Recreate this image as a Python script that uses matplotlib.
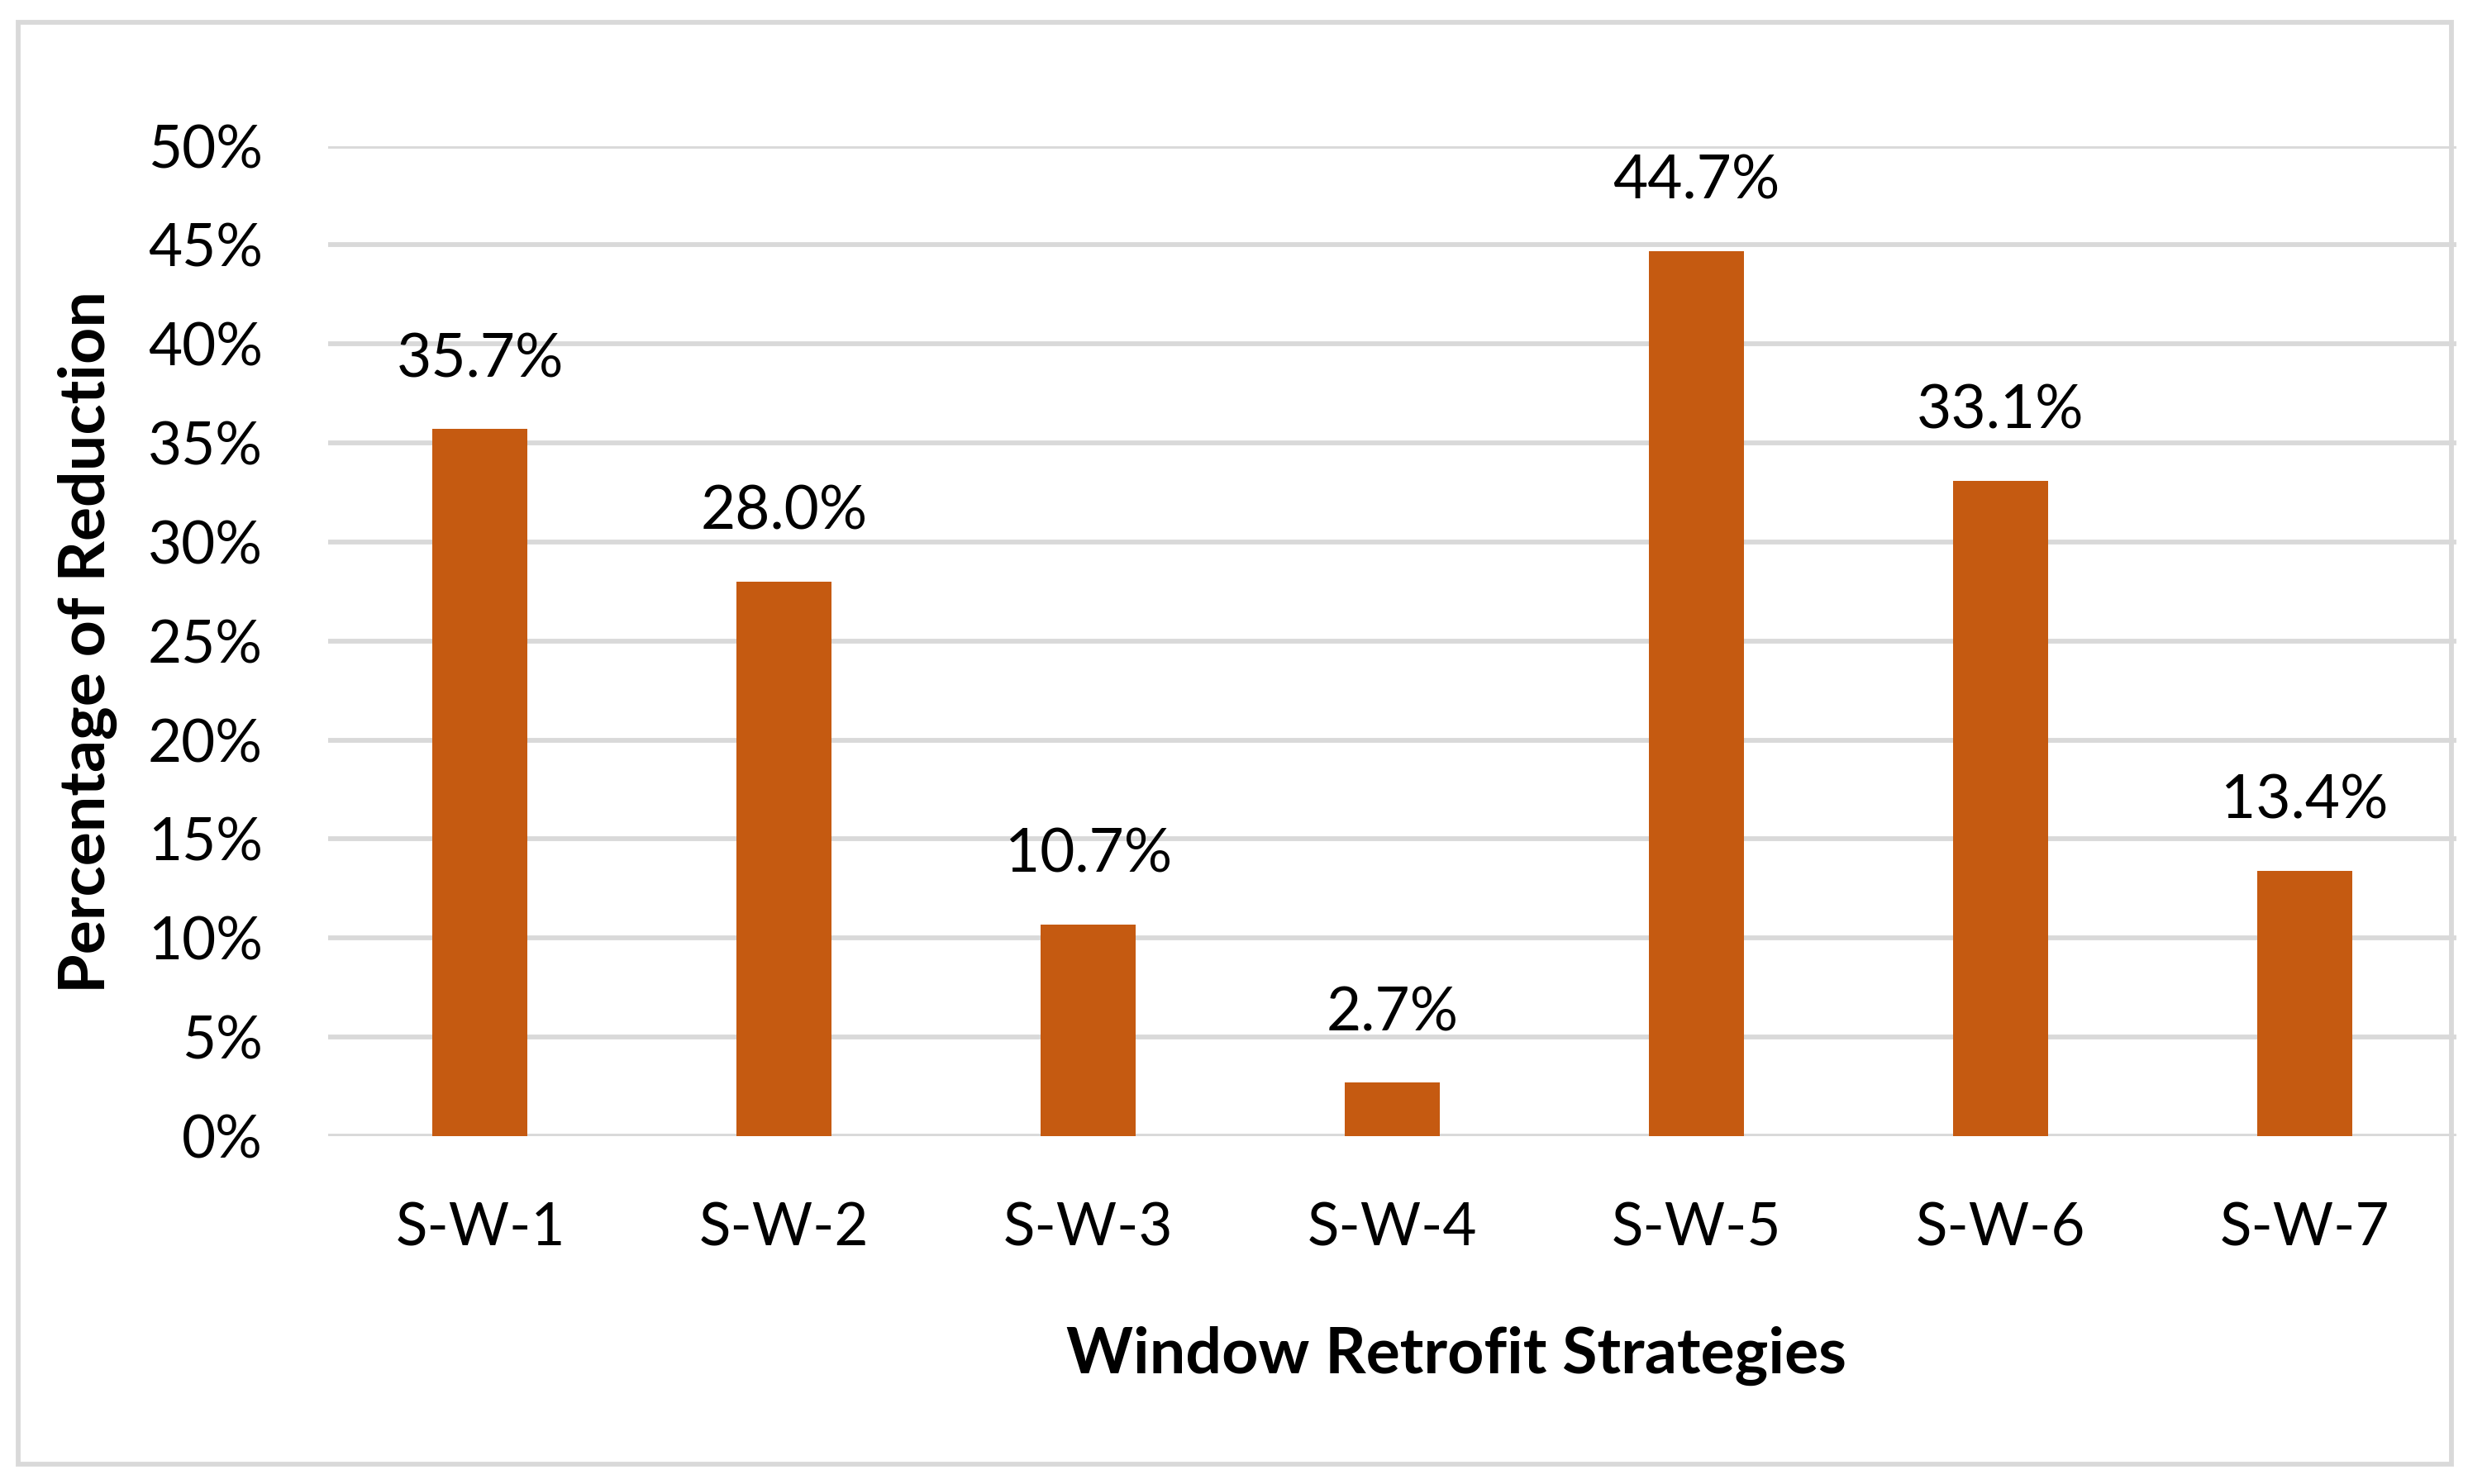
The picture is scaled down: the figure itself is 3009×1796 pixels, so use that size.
import matplotlib
matplotlib.use("Agg")
import matplotlib.pyplot as plt
from matplotlib.patches import Rectangle

categories = ["S-W-1", "S-W-2", "S-W-3", "S-W-4", "S-W-5", "S-W-6", "S-W-7"]
values = [35.7, 28.0, 10.7, 2.7, 44.7, 33.1, 13.4]
yticks = [0, 5, 10, 15, 20, 25, 30, 35, 40, 45, 50]
ytick_labels = [f"{t}%" for t in yticks]

W, H = 3009, 1796
DPI = 300
plt.rcParams['font.family'] = ['Lato', 'DejaVu Sans']

fig = plt.figure(figsize=(W / DPI, H / DPI), dpi=DPI)
fig.patch.set_facecolor("white")

# outer border
fig.patches.append(Rectangle((22 / W, 1 - 1772 / H), (2966 - 22) / W, (1772 - 27) / H,
                             transform=fig.transFigure, fill=False,
                             edgecolor="#D9D9D9", linewidth=1.4))

left, right = 397 / W, 2972 / W
bottom, top = 1 - 1375 / H, 1 - 176.5 / H
ax = fig.add_axes([left, bottom, right - left, top - bottom])

x = list(range(len(categories)))
bars = ax.bar(x, values, width=0.313, color="#C55A11", zorder=3)
ax.set_xlim(-0.5, len(categories) - 0.5)
ax.set_ylim(0, 50)
ax.set_yticks(yticks)
ax.set_yticklabels(ytick_labels)
ax.set_xticks(x)
ax.set_xticklabels(categories)
ax.tick_params(axis='both', length=0, labelsize=17, colors="black")
ax.tick_params(axis='y', pad=19)
ax.tick_params(axis='x', pad=19)

ax.grid(axis='y', color="#D9D9D9", linewidth=1.4, zorder=0)
ax.set_axisbelow(True)
for s in ax.spines.values():
    s.set_visible(False)

for xi, v in zip(x, values):
    ax.annotate(f"{v:.1f}%", (xi, v), xytext=(0, 12), textcoords="offset points",
                ha="center", va="bottom", fontsize=17.5)

fig.text(1762 / W, 1 - 1641 / H, "Window Retrofit Strategies", fontsize=18.5,
         fontweight="bold", ha="center", va="center")
fig.text(106 / W, 1 - 777 / H, "Percentage of Reduction", fontsize=18.5,
         fontweight="bold", ha="center", va="center", rotation=90)

fig.savefig("out.png", dpi=DPI, facecolor="white")
